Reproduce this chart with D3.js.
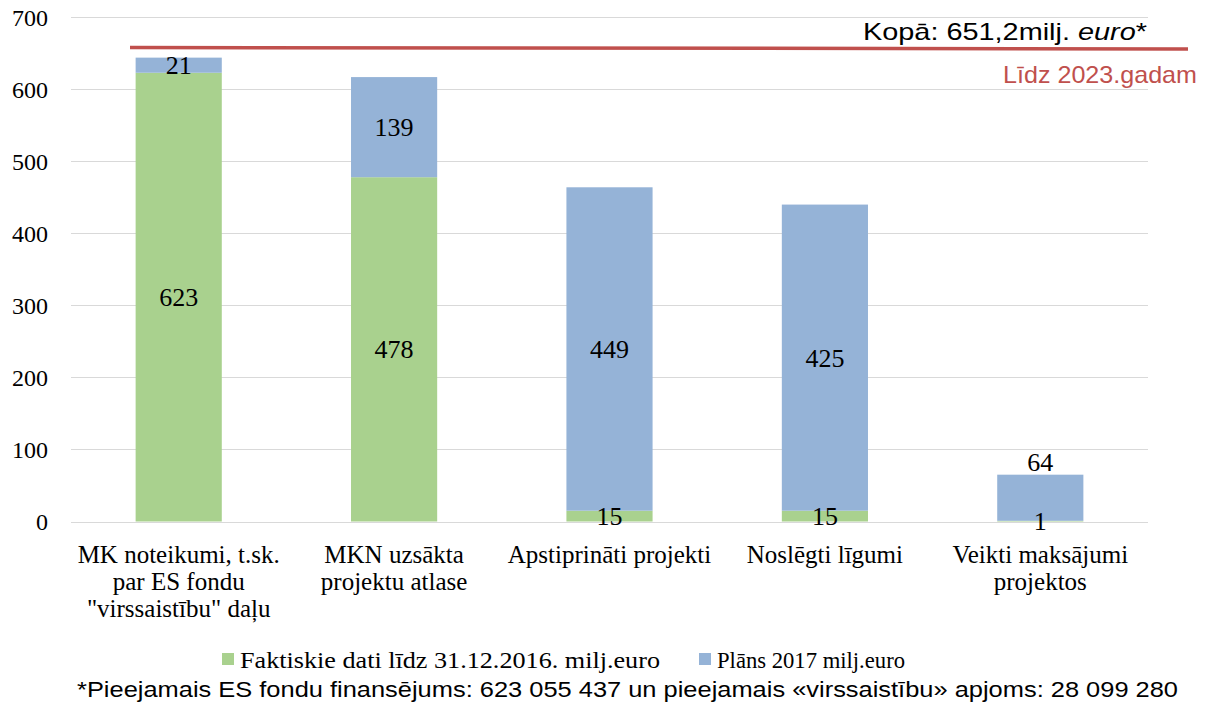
<!DOCTYPE html>
<html>
<head>
<meta charset="utf-8">
<script src="https://cdn.jsdelivr.net/npm/d3@7"></script>
<style>
  body { margin: 0; background: #fff; }
  svg text { fill: #000; }
</style>
</head>
<body>
<svg id="chart" width="1210" height="708"></svg>
<script>
// data
var categories = [
  'MK noteikumi, t.sk.|par ES fondu|"virssaistību" daļu',
  'MKN uzsākta|projektu atlase',
  'Apstiprināti projekti',
  'Noslēgti līgumi',
  'Veikti maksājumi|projektos'
];
var actual = [623, 478, 15, 15, 1];   // Faktiskie dati
var plan = [21, 139, 449, 425, 64];   // Plāns 2017
var seriesNames = ['Faktiskie dati līdz 31.12.2016. milj.euro', 'Plāns 2017 milj.euro'];
var yTicks = [0, 100, 200, 300, 400, 500, 600, 700];
var totalValue = 651.2;

var colors = ['#A9D18E', '#95B3D7'];
var serif = '"Liberation Serif", "Times New Roman", serif';
var sans = '"Liberation Sans", Arial, sans-serif';

var svg = d3.select('#chart');

var plotLeft = 71, plotRight = 1148, plotTop = 17.3, plotBottom = 521.5;

var x = d3.scaleBand()
  .domain(d3.range(categories.length))
  .range([plotLeft, plotRight])
  .paddingInner(0.6)
  .paddingOuter(0.3);

var y = d3.scaleLinear()
  .domain([0, 700])
  .range([plotBottom, plotTop]);

// gridlines
svg.append('g')
  .selectAll('line')
  .data(yTicks)
  .enter()
  .append('line')
  .attr('x1', plotLeft)
  .attr('x2', plotRight)
  .attr('y1', d => Math.round(y(d)) + 0.5)
  .attr('y2', d => Math.round(y(d)) + 0.5)
  .attr('stroke', '#D9D9D9')
  .attr('stroke-width', 1);

// y tick labels
svg.append('g')
  .selectAll('text')
  .data(yTicks)
  .enter()
  .append('text')
  .attr('x', 48)
  .attr('y', d => y(d))
  .attr('dy', '0.35em')
  .attr('text-anchor', 'end')
  .style('font-family', serif)
  .style('font-size', '24px')
  .text(d => d);

// stacked data
var rows = categories.map(function(c, i) {
  return { i: i, actual: actual[i], plan: plan[i] };
});
var stack = d3.stack().keys(['actual', 'plan'])(rows);

svg.append('g')
  .selectAll('g')
  .data(stack)
  .enter()
  .append('g')
  .attr('fill', (d, k) => colors[k])
  .selectAll('rect')
  .data(d => d)
  .enter()
  .append('rect')
  .attr('x', d => x(d.data.i))
  .attr('width', x.bandwidth())
  .attr('y', d => y(d[1]))
  .attr('height', d => y(d[0]) - y(d[1]));

// value labels, drawn after all bars so nothing covers them
svg.append('g')
  .selectAll('g')
  .data(stack)
  .enter()
  .append('g')
  .selectAll('text')
  .data(d => d)
  .enter()
  .append('text')
  .attr('x', d => x(d.data.i) + x.bandwidth() / 2)
  .attr('y', function(d) {
    // small top segment on a short bar: label sits above the bar
    if (d[0] > 0 && d[1] < 100) return y(d[1]) - 13;
    return (y(d[0]) + y(d[1])) / 2;
  })
  .attr('dy', '0.35em')
  .attr('text-anchor', 'middle')
  .style('font-family', serif)
  .style('font-size', '26px')
  .text(d => d[1] - d[0]);

// category labels, one text per line
var catLabels = svg.append('g')
  .selectAll('g')
  .data(categories)
  .enter()
  .append('g');

catLabels.each(function(d, i) {
  var g = d3.select(this);
  d.split('|').forEach(function(line, j) {
    g.append('text')
      .attr('x', x(i) + x.bandwidth() / 2)
      .attr('y', 563 + j * 27)
      .attr('text-anchor', 'middle')
      .style('font-family', serif)
      .style('font-size', '25px')
      .text(line);
  });
});

// total line (Kopā)
svg.append('line')
  .attr('x1', 130)
  .attr('x2', 1188)
  .attr('y1', y(totalValue) - 5)
  .attr('y2', y(totalValue) - 3.5)
  .attr('stroke', '#C0504D')
  .attr('stroke-width', 3.5);

svg.append('text')
  .attr('x', 863)
  .attr('y', 40)
  .attr('textLength', 284)
  .attr('lengthAdjust', 'spacingAndGlyphs')
  .style('font-family', sans)
  .style('font-size', '24px')
  .html('Kopā: 651,2milj. <tspan style="font-style:italic">euro</tspan>*');

svg.append('text')
  .attr('x', 1003)
  .attr('y', 83)
  .attr('textLength', 194)
  .attr('lengthAdjust', 'spacingAndGlyphs')
  .style('font-family', sans)
  .style('font-size', '24px')
  .style('fill', '#C0504D')
  .text('Līdz 2023.gadam');

// legend
var legendX = [222, 699];
var legendLen = [420, 188];
var legend = svg.append('g')
  .selectAll('g')
  .data(seriesNames)
  .enter()
  .append('g')
  .attr('transform', (d, i) => 'translate(' + legendX[i] + ',0)');

legend.append('rect')
  .attr('x', 0)
  .attr('y', 653)
  .attr('width', 12)
  .attr('height', 12)
  .attr('fill', (d, i) => colors[i]);

legend.append('text')
  .attr('x', 18)
  .attr('y', 667.5)
  .attr('textLength', (d, i) => legendLen[i])
  .attr('lengthAdjust', 'spacingAndGlyphs')
  .style('font-family', serif)
  .style('font-size', '23px')
  .text(d => d);

// footnote
svg.append('text')
  .attr('x', 77)
  .attr('y', 697)
  .attr('textLength', 1101)
  .attr('lengthAdjust', 'spacingAndGlyphs')
  .style('font-family', sans)
  .style('font-size', '22px')
  .text('*Pieejamais ES fondu finansējums: 623 055 437 un pieejamais «virssaistību» apjoms: 28 099 280');
</script>
</body>
</html>
